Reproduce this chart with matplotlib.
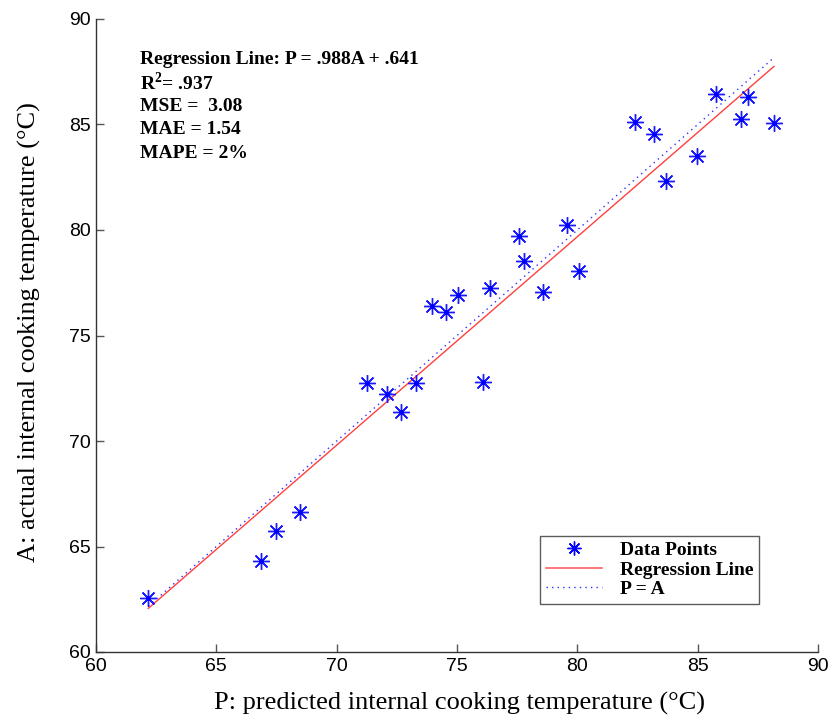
import matplotlib
matplotlib.use("Agg")
import matplotlib.pyplot as plt
import numpy as np
from matplotlib.lines import Line2D

predicted = [62.17, 66.86, 67.48, 68.48, 71.27, 72.08, 72.66, 73.28, 73.97, 74.55,
             75.05, 76.37, 76.07, 77.59, 77.78, 78.57, 79.58, 80.08, 82.39, 83.18,
             83.69, 84.98, 85.77, 87.09, 86.78, 88.17]
actual = [62.55, 64.31, 65.73, 66.62, 72.73, 72.23, 71.36, 72.75, 76.40, 76.11,
          76.92, 77.25, 72.81, 79.72, 78.54, 77.05, 80.24, 78.06, 85.13, 84.55,
          82.32, 83.52, 86.43, 86.32, 85.25, 85.06]
slope = 0.988
intercept = 0.641
stats_lines = ["Regression Line: P = .988A + .641", "R$^2$= .937", "MSE =  3.08",
               "MAE = 1.54", "MAPE = 2%"]
xticks = [60, 65, 70, 75, 80, 85, 90]
yticks = [60, 65, 70, 75, 80, 85, 90]

plt.rcParams['mathtext.fontset'] = 'custom'
plt.rcParams['mathtext.rm'] = 'Liberation Serif:bold'
plt.rcParams['mathtext.bf'] = 'Liberation Serif:bold'

fig = plt.figure(figsize=(8.34, 7.21), dpi=100)
ax = fig.add_axes([96/834, 1-652/721, (818-96)/834, (652-19)/721])

xs = np.array([min(predicted), max(predicted)])
ax.plot(predicted, actual, linestyle='none', marker=(8, 2, 0), markersize=12,
        color='#1a1aff', markeredgewidth=1.0, zorder=3)
ax.plot(predicted, actual, linestyle='none', marker='o', markersize=2.5,
        color='#0000ff', zorder=3)
ax.plot(xs, slope*xs + intercept, color='#ff4040', lw=1.0)
ax.plot(xs, xs, color='#3030ff', lw=1.0, linestyle=(0, (1, 3)))

ax.set_xlim(60, 90)
ax.set_ylim(60, 90)
ax.set_xticks(xticks)
ax.set_yticks(yticks)
for s in ['top', 'right']:
    ax.spines[s].set_visible(False)
for s in ['left', 'bottom']:
    ax.spines[s].set_color('#333333')
    ax.spines[s].set_linewidth(1.0)
ax.tick_params(direction='in', length=6, width=1, color='#555555',
               labelsize=14, pad=4)
for lab in ax.get_xticklabels() + ax.get_yticklabels():
    lab.set_fontfamily('Liberation Sans')

ax.set_xlabel("P: predicted internal cooking temperature (°C)",
              family='Liberation Serif', fontsize=19)
ax.set_ylabel("A: actual internal cooking temperature (°C)",
              family='Liberation Serif', fontsize=19)
ax.xaxis.label.set_va('center')
ax.yaxis.label.set_va('center')
ax.xaxis.set_label_coords(0.5035, -0.082)
ax.yaxis.set_label_coords(-0.092, 0.5055)

for i, t in enumerate(stats_lines):
    fig.text(140/834, 1-(60+23.3*i)/721, t, family='Liberation Serif',
             weight='bold', fontsize=14, va='center', ha='left')

handles = [Line2D([], [], linestyle='none', marker=(8, 2, 0), markersize=10,
                  color='#0000ff', markeredgewidth=1.0),
           Line2D([], [], color='#ff6060', lw=1.2),
           Line2D([], [], color='#3030ff', lw=1.0, linestyle=(0, (1, 3)))]
leg = fig.legend(handles, ["Data Points", "Regression Line", "P = A"],
                 loc='lower right', bbox_to_anchor=(759/834, 1-604/721),
                 prop={'family': 'Liberation Serif', 'weight': 'bold', 'size': 14},
                 fancybox=False, frameon=True, borderpad=0.3, labelspacing=0.1,
                 handlelength=2.9, handletextpad=0.9, borderaxespad=0)
leg.get_frame().set_edgecolor('#333333')
leg.get_frame().set_linewidth(1.0)

fig.savefig("out.png", dpi=100)
